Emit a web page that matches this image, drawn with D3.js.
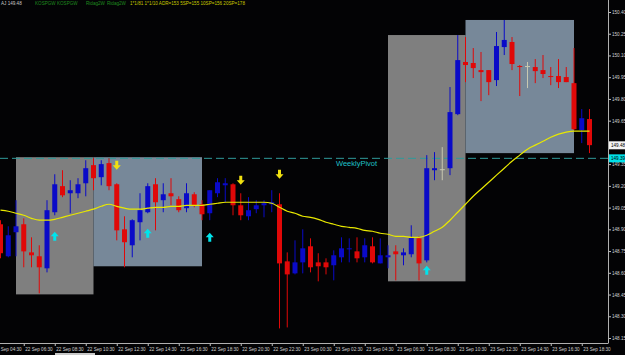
<!DOCTYPE html>
<html>
<head>
<meta charset="utf-8">
<script src="https://cdn.jsdelivr.net/npm/d3@7"></script>
<style>
body { margin: 0; background: #000; }
svg { display: block; font-family: "Liberation Sans", Arial, sans-serif; }
</style>
</head>
<body>
<script>
//Width and height
var w = 625;
var h = 355;
var plotRight = 608;   // price scale line
var plotBottom = 343;  // time scale line

// 30 minute candles, index 0 = 22 Sep 05:00
var opens  = [148.935,148.714,148.880,148.935,148.741,148.714,148.631,149.018,149.198,149.149,
              149.149,149.218,149.343,149.260,149.357,149.211,148.900,148.790,148.949,149.018,
              149.211,149.101,149.149,149.108,149.046,149.142,149.073,149.011,149.149,149.204,
              149.211,149.066,148.990,149.039,149.066,149.073,149.073,148.679,148.596,148.672,
              148.783,148.672,148.672,148.652,148.707,148.762,148.748,148.707,148.783,148.665,
              148.707,148.748,148.721,148.728,148.838,148.686,149.308,149.315,149.322,149.695,
              150.055,150.048,149.999,149.999,149.930,150.158,150.193,150.027,150.027,150.020,
              149.999,149.958,149.958,149.951,149.909,149.585,149.661];
var highs  = [148.963,148.921,149.101,148.976,148.845,148.790,149.101,149.280,149.308,149.239,
              149.253,149.377,149.391,149.377,149.391,149.218,148.990,148.969,149.149,149.218,
              149.253,149.218,149.253,149.128,149.218,149.156,149.101,149.170,149.253,149.253,
              149.218,149.149,149.122,149.101,149.101,149.170,149.149,148.741,148.824,148.900,
              148.838,148.735,148.700,148.755,148.845,148.838,148.845,148.838,148.845,148.838,
              148.790,148.790,148.769,148.928,148.852,149.412,149.433,149.467,149.882,150.241,
              150.227,150.151,150.124,149.999,150.262,150.345,150.227,150.034,150.055,150.075,
              150.103,150.020,150.075,150.020,150.151,149.730,149.730];
var lows   = [148.700,148.707,148.714,148.638,148.638,148.458,148.603,148.997,149.122,149.011,
              149.115,149.128,149.170,149.204,149.170,148.824,148.638,148.707,148.824,149.011,
              148.893,149.018,149.066,149.018,149.018,149.052,148.963,148.963,149.122,149.087,
              148.997,148.963,148.963,149.011,148.983,149.018,148.216,148.223,148.589,148.596,
              148.603,148.541,148.589,148.548,148.672,148.672,148.672,148.672,148.665,148.665,
              148.631,148.548,148.652,148.707,148.548,148.672,149.239,149.239,149.274,149.688,
              149.916,149.944,149.785,149.826,149.889,150.103,149.999,149.820,149.875,149.909,
              149.944,149.895,149.875,149.916,149.585,149.495,149.426];
var closes = [148.735,148.859,148.921,148.748,148.721,148.638,149.032,149.211,149.135,149.170,
              149.211,149.322,149.253,149.350,149.198,148.893,148.811,148.963,149.032,149.198,
              149.087,149.142,149.128,149.032,149.149,149.066,149.004,149.170,149.225,149.218,
              149.066,148.997,149.032,149.066,149.080,149.087,148.665,148.589,148.672,148.769,
              148.638,148.645,148.638,148.721,148.769,148.769,148.700,148.790,148.672,148.721,
              148.721,148.728,148.741,148.845,148.665,149.322,149.322,149.315,149.709,150.068,
              150.034,150.013,149.985,149.916,150.165,150.207,150.041,150.020,150.027,149.992,
              149.972,149.951,149.916,149.916,149.591,149.667,149.481];

// yellow moving average
var ma = [149.032,149.025,149.011,148.997,148.976,148.963,148.963,148.969,148.983,148.997,
          149.011,149.025,149.039,149.059,149.073,149.059,149.046,149.039,149.039,149.046,
          149.052,149.052,149.059,149.059,149.066,149.066,149.066,149.073,149.080,149.087,
          149.087,149.087,149.087,149.087,149.087,149.080,149.052,149.025,149.011,148.990,
          148.983,148.969,148.949,148.935,148.921,148.914,148.907,148.893,148.887,148.873,
          148.866,148.852,148.852,148.845,148.845,148.859,148.887,148.914,148.963,149.018,
          149.073,149.128,149.177,149.225,149.274,149.322,149.370,149.412,149.453,149.481,
          149.508,149.536,149.557,149.571,149.578,149.578,149.578];

// session boxes
var boxStart = [2, 12, 50, 60];
var boxEnd   = [12, 26, 60, 74];
var boxHigh  = [149.398, 149.398, 150.241, 150.345];
var boxLow   = [148.451, 148.645, 148.541, 149.426];
var boxColor = ["#7f7f7f", "#778899", "#7f7f7f", "#778899"];

// signal arrows
var upIdx     = [7, 19, 27, 55];
var upPrice   = [148.852, 148.873, 148.845, 148.617];
var downIdx   = [15, 31, 36];
var downPrice = [149.343, 149.239, 149.280];

var pivot = 149.39;
var lastPrice = 149.48;

// 149.50 sits under the last price tag, so its label is left blank
var yTicks = [150.40,150.25,150.10,149.95,149.80,149.65,149.50,149.35,149.20,149.05,
              148.90,148.75,148.60,148.45,148.30,148.15];
var yHidden = [149.50];
var timeLabels = ["22 Sep 04:30","22 Sep 06:30","22 Sep 08:30","22 Sep 10:30","22 Sep 12:30",
                  "22 Sep 14:30","22 Sep 16:30","22 Sep 18:30","22 Sep 20:30","22 Sep 22:30",
                  "23 Sep 00:30","23 Sep 02:30","23 Sep 04:30","23 Sep 06:30","23 Sep 08:30",
                  "23 Sep 10:30","23 Sep 12:30","23 Sep 14:30","23 Sep 16:30","23 Sep 18:30"];
var timeIdx = timeLabels.map(function(d, i){ return -1 + 4 * i; });

//Scales
var x = d3.scaleLinear().domain([0, 76]).range([0.5, 589.5]);
var y = d3.scaleLinear().domain([148.15, 150.40]).range([338, 12]);
var bodyW = 5;

//Create SVG element
var svg = d3.select("body")
            .append("svg")
            .attr("width", w)
            .attr("height", h);

svg.append("rect").attr("width", w).attr("height", h).attr("fill", "#030305");

svg.append("clipPath").attr("id", "plot")
   .append("rect").attr("width", plotRight).attr("height", plotBottom);

var plot = svg.append("g").attr("clip-path", "url(#plot)");

// session boxes
plot.selectAll("rect.box")
    .data(boxStart)
    .enter()
    .append("rect")
    .attr("class", "box")
    .attr("x", function(d){ return x(d); })
    .attr("width", function(d, i){ return x(boxEnd[i]) - x(d); })
    .attr("y", function(d, i){ return y(boxHigh[i]); })
    .attr("height", function(d, i){ return y(boxLow[i]) - y(boxHigh[i]); })
    .attr("fill", function(d, i){ return boxColor[i]; });

// weekly pivot
plot.append("line")
    .attr("x1", 0).attr("x2", plotRight)
    .attr("y1", y(pivot)).attr("y2", y(pivot))
    .attr("stroke", "#2f9a9a")
    .attr("stroke-width", 1)
    .attr("stroke-dasharray", "8,4");

plot.append("text")
    .attr("x", 336).attr("y", y(pivot) + 8)
    .attr("fill", "#1fc0c8")
    .style("font-size", "7.5px")
    .text("WeeklyPivot");

// candles
function candleColor(i){
    if (closes[i] > opens[i]) return "#0a0ac8";
    if (closes[i] < opens[i]) return "#e00808";
    return "#c8c8b0";
}

var candles = plot.selectAll("g.candle")
    .data(opens)
    .enter()
    .append("g")
    .attr("class", "candle");

candles.append("line")
    .attr("x1", function(d, i){ return x(i); })
    .attr("x2", function(d, i){ return x(i); })
    .attr("y1", function(d, i){ return y(highs[i]); })
    .attr("y2", function(d, i){ return y(lows[i]); })
    .attr("stroke", function(d, i){ return candleColor(i); })
    .attr("stroke-width", 1);

candles.append("rect")
    .attr("x", function(d, i){ return x(i) - bodyW / 2; })
    .attr("width", bodyW)
    .attr("y", function(d, i){ return y(Math.max(opens[i], closes[i])); })
    .attr("height", function(d, i){
        return Math.max(1, Math.abs(y(opens[i]) - y(closes[i])));
    })
    .attr("fill", function(d, i){ return candleColor(i); });

// moving average
var maLine = d3.line()
    .x(function(d, i){ return x(i); })
    .y(function(d){ return y(d); })
    .curve(d3.curveMonotoneX);

plot.append("path")
    .datum(ma)
    .attr("d", maLine)
    .attr("fill", "none")
    .attr("stroke", "#e8e800")
    .attr("stroke-width", 1.2);

// arrows
var upPath = "M0,-4.5 L4,0 L1.5,0 L1.5,4.5 L-1.5,4.5 L-1.5,0 L-4,0 Z";
var downPath = "M0,4.5 L4,0 L1.5,0 L1.5,-4.5 L-1.5,-4.5 L-1.5,0 L-4,0 Z";

plot.selectAll("path.up")
    .data(upIdx)
    .enter()
    .append("path")
    .attr("class", "up")
    .attr("d", upPath)
    .attr("transform", function(d, i){ return "translate(" + x(d) + "," + y(upPrice[i]) + ")"; })
    .attr("fill", "#00e4ec");

plot.selectAll("path.down")
    .data(downIdx)
    .enter()
    .append("path")
    .attr("class", "down")
    .attr("d", downPath)
    .attr("transform", function(d, i){ return "translate(" + x(d) + "," + y(downPrice[i]) + ")"; })
    .attr("fill", "#f0e010");

// price axis
var yAxis = d3.axisRight(y)
    .tickValues(yTicks)
    .tickFormat(function(d){ return yHidden.indexOf(d) >= 0 ? "" : d.toFixed(2); })
    .tickSize(3)
    .tickSizeOuter(0);

var ya = svg.append("g")
    .attr("transform", "translate(" + plotRight + ",0)")
    .call(yAxis);
ya.select(".domain").remove();
ya.selectAll("line").attr("stroke", "#c0c0c0");
ya.selectAll("text")
  .attr("x", 4)
  .attr("fill", "#d0d0d0")
  .style("font-size", "4.6px");

svg.append("line")
   .attr("x1", plotRight + 0.5).attr("x2", plotRight + 0.5)
   .attr("y1", 0).attr("y2", plotBottom)
   .attr("stroke", "#b0b0b0");

// time axis
var xAxis = d3.axisBottom(x)
    .tickValues(timeIdx)
    .tickFormat(function(d, i){ return timeLabels[i]; })
    .tickSize(3)
    .tickSizeOuter(0);

var xa = svg.append("g")
    .attr("transform", "translate(0," + plotBottom + ")")
    .call(xAxis);
xa.select(".domain").remove();
xa.selectAll("line").attr("stroke", "#c0c0c0");
xa.selectAll("text")
  .attr("text-anchor", "start")
  .attr("x", 1)
  .attr("y", 5)
  .attr("fill", "#d0d0d0")
  .style("font-size", "4.6px");

svg.append("line")
   .attr("x1", 0).attr("x2", plotRight + 0.5)
   .attr("y1", plotBottom + 0.5).attr("y2", plotBottom + 0.5)
   .attr("stroke", "#b0b0b0");

svg.append("rect")
   .attr("x", 55).attr("y", 353).attr("width", 40).attr("height", 2)
   .attr("fill", "#c8c8c8");

// price labels on the axis
function axisTag(price, fill, textFill){
    svg.append("rect")
       .attr("x", plotRight + 1).attr("y", y(price) - 4)
       .attr("width", w - plotRight).attr("height", 8)
       .attr("fill", fill);
    svg.append("text")
       .attr("x", plotRight + 3).attr("y", y(price) + 1.7)
       .attr("fill", textFill)
       .style("font-size", "4.6px")
       .text(price.toFixed(2));
}
axisTag(lastPrice, "#f4f4f4", "#000");
axisTag(pivot, "#00e0e8", "#000");

// header texts
var header = [
    {x: 1,   text: "AJ 149.48", fill: "#c8c8c8"},
    {x: 35,  text: "KOSPGW KOSPGW", fill: "#1f8a1f"},
    {x: 86,  text: "Ridag2W", fill: "#1f8a1f"},
    {x: 107, text: "Ridag2W", fill: "#1f8a1f"},
    {x: 130, text: "1*1/81 1*1/10 ADR=153 5SP=155 10SP=156 20SP=178", fill: "#c8c800"}
];
svg.selectAll("text.head")
   .data(header)
   .enter()
   .append("text")
   .attr("class", "head")
   .attr("x", function(d){ return d.x; })
   .attr("y", 5)
   .attr("fill", function(d){ return d.fill; })
   .style("font-size", "4.6px")
   .text(function(d){ return d.text; });
</script>
</body>
</html>
